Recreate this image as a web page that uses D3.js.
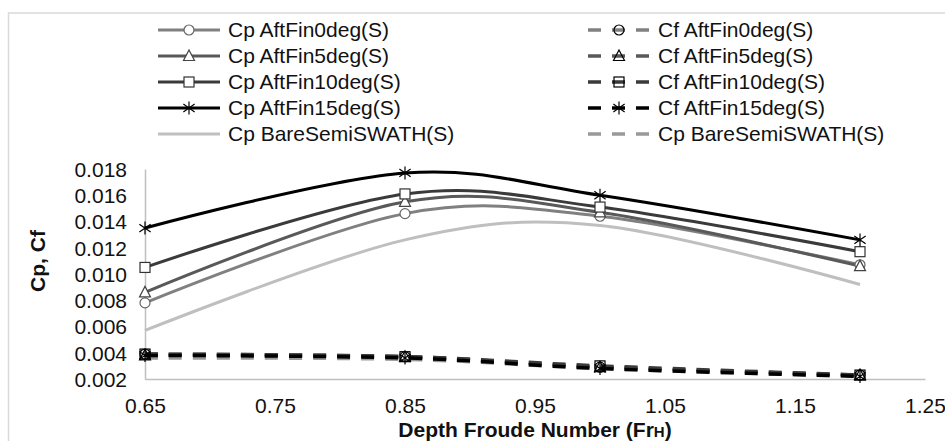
<!DOCTYPE html>
<html>
<head>
<meta charset="utf-8">
<script src="https://cdn.jsdelivr.net/npm/d3@7"></script>
<style>
  body { margin: 0; background: #fff; }
  svg { display: block; font-family: "Liberation Sans", Arial, sans-serif; }
</style>
</head>
<body>
<svg id="chart" width="945" height="441"></svg>
<script>
// data
const froude = [0.65, 0.85, 1.0, 1.2];
const xTicks = [0.65, 0.75, 0.85, 0.95, 1.05, 1.15, 1.25];
const yTicks = [0.002, 0.004, 0.006, 0.008, 0.010, 0.012, 0.014, 0.016, 0.018];

const cpNames = ['Cp AftFin0deg(S)', 'Cp AftFin5deg(S)', 'Cp AftFin10deg(S)', 'Cp AftFin15deg(S)', 'Cp BareSemiSWATH(S)'];
const cfNames = ['Cf AftFin0deg(S)', 'Cf AftFin5deg(S)', 'Cf AftFin10deg(S)', 'Cf AftFin15deg(S)', 'Cp BareSemiSWATH(S)'];

const cpFin0 = [0.0078, 0.0146, 0.0144, 0.0107];
const cpFin5 = [0.0086, 0.0155, 0.0147, 0.0106];
const cpFin10 = [0.0105, 0.0161, 0.0151, 0.0117];
const cpFin15 = [0.0135, 0.0177, 0.0160, 0.0126];
const cpBare = [0.0057, 0.0126, 0.0137, 0.0092];

const cfFin0 = [0.0039, 0.0037, 0.0029, 0.0023];
const cfFin5 = [0.0038, 0.0037, 0.0029, 0.0023];
const cfFin10 = [0.0039, 0.0037, 0.0030, 0.0023];
const cfFin15 = [0.0038, 0.0036, 0.0028, 0.0022];
const cfBare = [0.0036, 0.0035, 0.0028, 0.0022];

// styles
const lineColors = ['#808080', '#595959', '#3a3a3a', '#000000', '#bfbfbf'];
const cfColors = ['#808080', '#595959', '#3a3a3a', '#000000', '#999999'];
const markerKinds = ['circle', 'triangle', 'square', 'star', null];
const fontSize = '21px';

const svg = d3.select('#chart');
const plotL = 145, plotR = 925, plotT = 169, plotB = 379;

// outer chart border
svg.append('rect')
  .attr('x', 8.5).attr('y', 13)
  .attr('width', 1000).attr('height', 500)
  .attr('fill', '#fff')
  .attr('stroke', '#d9d9d9')
  .attr('stroke-width', 1.5);

const x = d3.scaleLinear().domain([0.65, 1.25]).range([plotL, plotR]);
const y = d3.scaleLinear().domain([0.002, 0.018]).range([plotB, plotT]);

// axes
const xAxis = d3.axisBottom(x).tickValues(xTicks).tickSize(0).tickPadding(19)
  .tickFormat(d3.format('.2f'));
const yAxis = d3.axisLeft(y).tickValues(yTicks).tickSize(0).tickPadding(18)
  .tickFormat(d3.format('.3f'));

const gx = svg.append('g').attr('transform', `translate(0,${plotB})`).call(xAxis);
const gy = svg.append('g').attr('transform', `translate(${plotL},0)`).call(yAxis);
[gx, gy].forEach(g => {
  g.select('.domain').attr('stroke', '#bfbfbf').attr('stroke-width', 1.5);
  g.selectAll('.tick text').attr('fill', '#111').style('font-size', fontSize)
    .style('font-family', '"Liberation Sans", Arial, sans-serif');
});
gy.selectAll('.tick text').attr('dy', '0.35em');

// titles
svg.append('text')
  .attr('transform', 'translate(45,261) rotate(-90)')
  .attr('text-anchor', 'middle')
  .style('font-size', fontSize).style('font-weight', 'bold')
  .attr('fill', '#111')
  .text('Cp, Cf');

const xt = svg.append('text')
  .attr('x', 535).attr('y', 437)
  .attr('text-anchor', 'middle')
  .style('font-size', fontSize).style('font-weight', 'bold')
  .attr('fill', '#111');
xt.append('tspan').text('Depth Froude Number (Fr');
xt.append('tspan').text('H').style('font-size', '15px');
xt.append('tspan').text(')');

// markers
function drawMarker(g, kind, cx, cy, fill, stroke) {
  if (kind === 'circle') {
    g.append('circle').attr('cx', cx).attr('cy', cy).attr('r', 5)
      .attr('fill', fill).attr('stroke', stroke).attr('stroke-width', 1.2);
  } else if (kind === 'triangle') {
    const p = d3.path();
    p.moveTo(cx, cy - 6); p.lineTo(cx + 5.5, cy + 4.5); p.lineTo(cx - 5.5, cy + 4.5); p.closePath();
    g.append('path').attr('d', p.toString())
      .attr('fill', fill).attr('stroke', stroke).attr('stroke-width', 1.2);
  } else if (kind === 'square') {
    g.append('rect').attr('x', cx - 5).attr('y', cy - 5).attr('width', 10).attr('height', 10)
      .attr('fill', fill).attr('stroke', stroke).attr('stroke-width', 1.2);
  } else if (kind === 'star') {
    const s = 6.5;
    const p = d3.path();
    p.moveTo(cx, cy - s); p.lineTo(cx, cy + s);
    p.moveTo(cx - s * 0.87, cy - s * 0.6); p.lineTo(cx + s * 0.87, cy + s * 0.6);
    p.moveTo(cx - s * 0.87, cy + s * 0.6); p.lineTo(cx + s * 0.87, cy - s * 0.6);
    g.append('path').attr('d', p.toString())
      .attr('fill', 'none').attr('stroke', stroke).attr('stroke-width', 1.2);
  }
}

const line = d3.line()
  .x((d, i) => x(froude[i]))
  .y(d => y(d))
  .curve(d3.curveCatmullRom.alpha(0));

const cpSeries = [cpFin0, cpFin5, cpFin10, cpFin15, cpBare];
const cfSeries = [cfFin0, cfFin5, cfFin10, cfFin15, cfBare];
const markStroke = ['#666', '#444', '#333', '#000'];

const plot = svg.append('g');
// Cp series (bare first so the fin curves sit on top)
[4, 0, 1, 2, 3].forEach(i => {
  plot.append('path').attr('d', line(cpSeries[i]))
    .attr('fill', 'none').attr('stroke', lineColors[i]).attr('stroke-width', 3);
});
[0, 1, 2, 3].forEach(i => {
  cpSeries[i].forEach((v, j) => drawMarker(plot, markerKinds[i], x(froude[j]), y(v), '#fff', markStroke[i]));
});
// Cf series
[4, 0, 1, 2, 3].forEach(i => {
  plot.append('path').attr('d', line(cfSeries[i]))
    .attr('fill', 'none').attr('stroke', cfColors[i]).attr('stroke-width', 3.5)
    .attr('stroke-dasharray', '13,11');
});
[0, 1, 2, 3].forEach(i => {
  cfSeries[i].forEach((v, j) => drawMarker(plot, markerKinds[i], x(froude[j]), y(v), 'none', '#000'));
});

// legend
const rowY = [30, 56, 82, 108, 134];
const leg = svg.append('g');
cpNames.forEach((name, i) => {
  const yy = rowY[i];
  leg.append('line').attr('x1', 158).attr('x2', 220).attr('y1', yy).attr('y2', yy)
    .attr('stroke', lineColors[i]).attr('stroke-width', 3);
  if (markerKinds[i]) drawMarker(leg, markerKinds[i], 189, yy, '#fff', markStroke[i]);
  leg.append('text').attr('x', 228).attr('y', yy).attr('dy', '0.35em')
    .style('font-size', fontSize).attr('fill', '#111').text(name);
});
cfNames.forEach((name, i) => {
  const yy = rowY[i];
  leg.append('line').attr('x1', 588).attr('x2', 650).attr('y1', yy).attr('y2', yy)
    .attr('stroke', cfColors[i]).attr('stroke-width', 3.5)
    .attr('stroke-dasharray', '13,11');
  if (markerKinds[i]) drawMarker(leg, markerKinds[i], 619, yy, 'none', '#000');
  leg.append('text').attr('x', 658).attr('y', yy).attr('dy', '0.35em')
    .style('font-size', fontSize).attr('fill', '#111').text(name);
});
</script>
</body>
</html>
